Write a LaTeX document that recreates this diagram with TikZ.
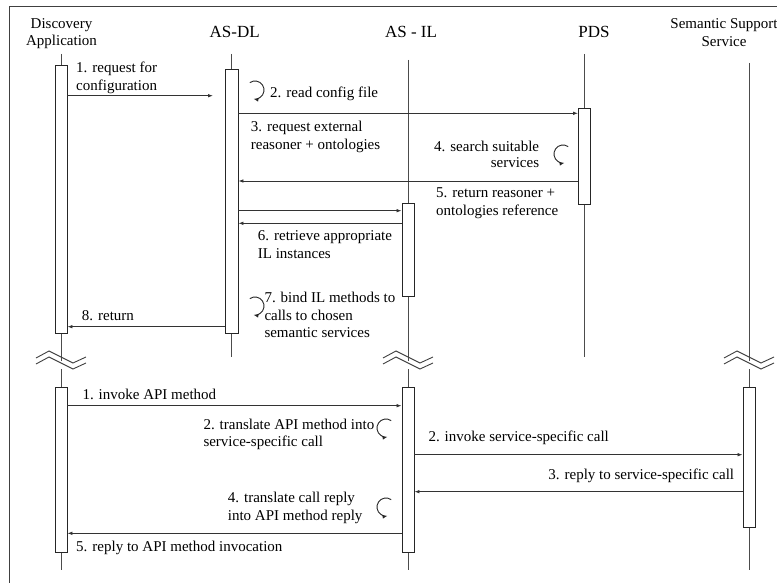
\documentclass[tikz,border=0pt]{standalone}
\usepackage{fontspec}
\setmainfont{Liberation Serif}
\usetikzlibrary{arrows.meta}
\begin{document}
\begin{tikzpicture}[x=1pt,y=-1pt,
  frameline/.style={draw=black!75, line width=0.9pt},
  lifeline/.style={draw=black!70, line width=0.9pt},
  actbox/.style={draw=black!85, fill=white, line width=0.9pt, rectangle, inner sep=0pt, minimum width=12pt},
  msg/.style={draw=black!80, line width=0.8pt, -{Latex[length=5pt,width=3.6pt]}},
  loopline/.style={draw=black!85, line width=0.9pt, -{Latex[length=5pt,width=4pt]}},
  brkline/.style={draw=black!75, line width=0.9pt},
  hdr/.style={font=\fontsize{15}{18}\selectfont, inner sep=0pt, anchor=base},
  title/.style={font=\fontsize{17}{20}\selectfont, inner sep=0pt, anchor=base},
  lblL/.style={font=\fontsize{15}{18}\selectfont, inner sep=0pt, anchor=base west},
  lblR/.style={font=\fontsize{15}{18}\selectfont, inner sep=0pt, anchor=base east},
  lifebreak/.pic={
    \draw[brkline] (-25,1) -- (-12,-6) -- (12,6) -- (25,0);
    \draw[brkline] (-25,7) -- (-12,0) -- (12,12) -- (25,6);
  },
  loopL/.pic={\draw[loopline] (-125:9) arc[start angle=-125, end angle=100, radius=9];},
  loopR/.pic={\draw[loopline] (-55:9) arc[start angle=-55, end angle=-280, radius=9];}
]
\useasboundingbox (0,0) rectangle (777,583);
\fill[white] (0,0) rectangle (777,583);
\draw[frameline] (9,583) -- (9,6) -- (777,6);

% headers
\node[hdr] (hDA1) at (61.5,28.3) {Discovery};
\node[hdr] (hDA2) at (61.5,45.7) {Application};
\node[title] (hDL) at (234.7,37.3) {AS-DL};
\node[title] (hIL) at (411,37.3) {AS - IL};
\node[title] (hPDS) at (594,37.3) {PDS};
\node[hdr] (hSS1) at (724,28.3) {Semantic Support};
\node[hdr] (hSS2) at (724,46.7) {Service};

% lifeline end points
\coordinate (daTop) at (61,54);
\coordinate (daBrkA) at (61,361);
\coordinate (daBrkB) at (61,369);
\coordinate (daEnd) at (61,570);
\coordinate (dlTop) at (231.5,54);
\coordinate (dlEnd) at (231.5,357);
\coordinate (ilTop) at (408,60);
\coordinate (ilBrkA) at (408,361);
\coordinate (ilBrkB) at (408,369);
\coordinate (ilEnd) at (408,570);
\coordinate (pdTop) at (584.5,54);
\coordinate (pdEnd) at (584.5,357);
\coordinate (ssTop) at (749,63);
\coordinate (ssBrkA) at (749,361);
\coordinate (ssBrkB) at (749,369);
\coordinate (ssEnd) at (749,570);

\draw[lifeline] (daTop) -- (daBrkA);
\draw[lifeline] (daBrkB) -- (daEnd);
\draw[lifeline] (dlTop) -- (dlEnd);
\draw[lifeline] (ilTop) -- (ilBrkA);
\draw[lifeline] (ilBrkB) -- (ilEnd);
\draw[lifeline] (pdTop) -- (pdEnd);
\draw[lifeline] (ssTop) -- (ssBrkA);
\draw[lifeline] (ssBrkB) -- (ssEnd);

\pic at (61,357) {lifebreak};
\pic at (408,357) {lifebreak};
\pic at (749,357) {lifebreak};

% activation boxes
\node[actbox, minimum height=268pt] (da1) at (61,199) {};
\node[actbox, minimum width=13pt, minimum height=264pt] (dl1) at (231.5,201) {};
\node[actbox, minimum height=96pt] (pd1) at (584.5,156) {};
\node[actbox, minimum height=93pt] (il1) at (408,249.5) {};
\node[actbox, minimum height=165pt] (da2) at (61,469.5) {};
\node[actbox, minimum height=165pt] (il2) at (408,469.5) {};
\node[actbox, minimum height=140pt] (ss2) at (749,457) {};

% message levels
\coordinate (y1) at (0,95.7);
\coordinate (m1end) at (213,95.7);
\coordinate (y3) at (0,113.3);
\coordinate (y5) at (0,181);
\coordinate (y6a) at (0,210.7);
\coordinate (y6b) at (0,223.3);
\coordinate (y8) at (0,326.7);
\coordinate (z1) at (0,405.7);
\coordinate (z2) at (0,454.7);
\coordinate (z3) at (0,491.7);
\coordinate (z5) at (0,533.3);

\draw[msg] (da1.east |- y1) -- (m1end);
\draw[msg] (dl1.east |- y3) -- (pd1.west |- y3);
\draw[msg] (pd1.west |- y5) -- (dl1.east |- y5);
\draw[msg] (dl1.east |- y6a) -- (il1.west |- y6a);
\draw[msg] (il1.west |- y6b) -- (dl1.east |- y6b);
\draw[msg] (dl1.west |- y8) -- (da1.east |- y8);
\draw[msg] (da2.east |- z1) -- (il2.west |- z1);
\draw[msg] (il2.east |- z2) -- (ss2.west |- z2);
\draw[msg] (ss2.west |- z3) -- (il2.east |- z3);
\draw[msg] (il2.west |- z5) -- (da2.east |- z5);

% self calls
\pic at (255,90) {loopL};
\pic at (255,306) {loopL};
\pic at (563,154) {loopR};
\pic at (386,428) {loopR};
\pic at (386,507) {loopR};

% labels
\node[lblL] (t1a) at (76,73) {1. request for};
\node[lblL] (t1b) at (76,91) {configuration};
\node[lblL] (t2) at (270,97.3) {2. read config file};
\node[lblL] (t3a) at (250.7,132) {3. request external};
\node[lblL] (t3b) at (250.7,149.5) {reasoner + ontologies};
\node[lblR] (t4a) at (539.3,151.7) {4. search suitable};
\node[lblR] (t4b) at (539.3,167.7) {services};
\node[lblL] (t5a) at (436,197) {5. return reasoner +};
\node[lblL] (t5b) at (436,215) {ontologies reference};
\node[lblL] (t6a) at (257.7,240.7) {6. retrieve appropriate};
\node[lblL] (t6b) at (257.7,258.3) {IL instances};
\node[lblL] (t7a) at (264.3,302.7) {7. bind IL methods to};
\node[lblL] (t7b) at (264.3,320) {calls to chosen};
\node[lblL] (t7c) at (264.3,337.7) {semantic services};
\node[lblL] (t8) at (81.7,320) {8. return};

\node[lblL] (s1) at (82.3,399.3) {1. invoke API method};
\node[lblL] (s2a) at (203.3,429.3) {2. translate API method into};
\node[lblL] (s2b) at (203.3,446.7) {service-specific call};
\node[lblL] (s3) at (428.3,441) {2. invoke service-specific call};
\node[lblR] (s4) at (734.3,479.3) {3. reply to service-specific call};
\node[lblL] (s5a) at (227.7,502.7) {4. translate call reply};
\node[lblL] (s5b) at (227.7,520) {into API method reply};
\node[lblL] (s6) at (76,551) {5. reply to API method invocation};
\end{tikzpicture}
\end{document}
